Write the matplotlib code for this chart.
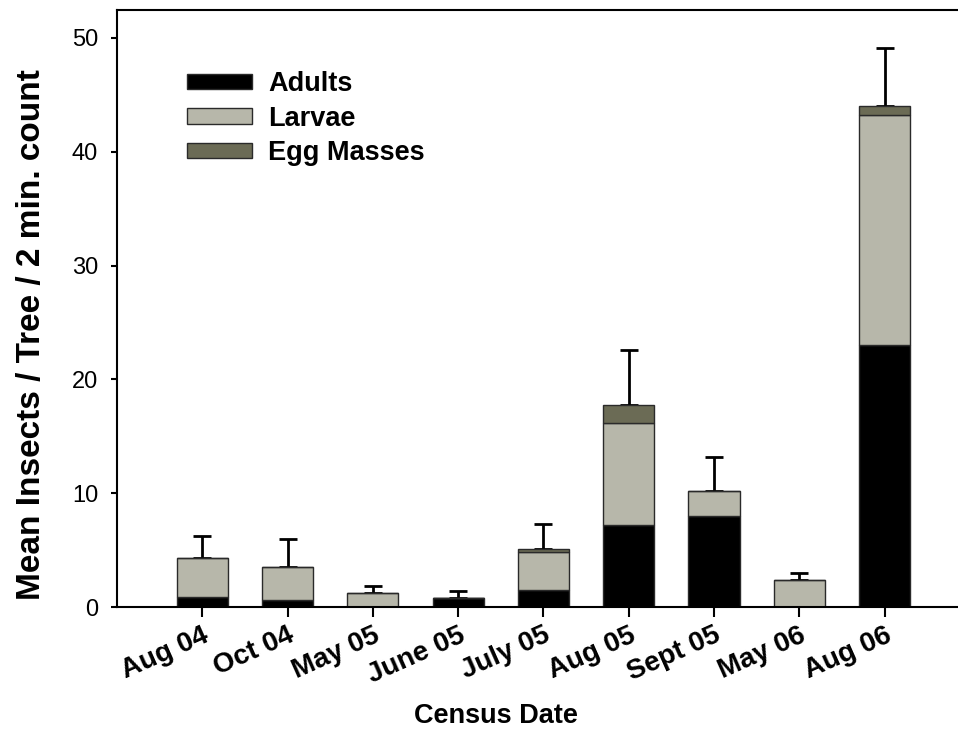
import matplotlib
matplotlib.use("Agg")
import matplotlib.pyplot as plt
from matplotlib.patches import Patch
import numpy as np

plt.rcParams['font.family'] = ['Liberation Sans', 'DejaVu Sans']

categories = ["Aug 04", "Oct 04", "May 05", "June 05", "July 05",
              "Aug 05", "Sept 05", "May 06", "Aug 06"]
adults = [0.88, 0.62, 0.0, 0.82, 1.52, 7.21, 8.00, 0.0, 23.05]
larvae = [3.43, 2.90, 1.20, 0.0, 3.29, 8.98, 2.20, 2.33, 20.15]
egg_masses = [0.0, 0.0, 0.0, 0.0, 0.29, 1.52, 0.0, 0.0, 0.85]
errors = [1.97, 2.49, 0.65, 0.56, 2.17, 4.84, 2.97, 0.69, 5.10]
series_names = ["Adults", "Larvae", "Egg Masses"]
yticks = [0, 10, 20, 30, 40, 50]

colors = ["#000000", "#b7b7aa", "#6b6b55"]
edge = "#2a2a2a"

fig = plt.figure(figsize=(9.58, 7.40), dpi=100)
ax_w = 1.0 - 117/958
ax = fig.add_axes([117/958, 1-607/740, ax_w, (607-10)/740])

x = np.arange(len(categories))
a = np.array(adults); l = np.array(larvae); e = np.array(egg_masses)
w = 0.6
ax.bar(x, a, w, color=colors[0], edgecolor=edge, linewidth=1, zorder=2)
ax.bar(x, l, w, bottom=a, color=colors[1], edgecolor=edge, linewidth=1, zorder=2)
ax.bar(x, e, w, bottom=a + l, color=colors[2], edgecolor=edge, linewidth=1, zorder=2)
tot = a + l + e
ax.errorbar(x, tot, yerr=[np.zeros_like(tot), np.array(errors)], fmt='none',
            ecolor='black', elinewidth=2, capsize=6.5, capthick=2, zorder=1)

ax.set_xlim(-1.0, 8.86)
ax.set_ylim(0, 52.46)
ax.set_yticks(yticks)
ax.set_xticks(x)
ax.set_xticklabels(categories, rotation=24, ha='right', rotation_mode='anchor',
                   fontsize=20, fontweight='bold')
ax.tick_params(axis='x', length=7, width=1.5, direction='out', pad=4)
ax.tick_params(axis='y', length=4.5, width=1.5, direction='out', pad=9, labelsize=17)
for s in ['left', 'bottom', 'top']:
    ax.spines[s].set_linewidth(1.5)
ax.spines['right'].set_visible(False)

ax.set_xlabel("Census Date", fontsize=19.5, fontweight='bold')
ax.xaxis.set_label_coords(0.45, -0.16)
ax.set_ylabel("Mean Insects / Tree / 2 min. count", fontsize=24, fontweight='bold')
ax.yaxis.set_label_coords(-0.083, 0.457)

handles = [Patch(facecolor=c, edgecolor=edge, linewidth=1) for c in colors]
ax.legend(handles, series_names, loc='upper left', bbox_to_anchor=(0.083, 0.898),
          frameon=False, prop={'size': 19.5, 'weight': 'bold'},
          handlelength=2.4, handleheight=0.5, handletextpad=0.6,
          labelspacing=0.32, borderpad=0, borderaxespad=0)

fig.savefig("out.png", dpi=100)
